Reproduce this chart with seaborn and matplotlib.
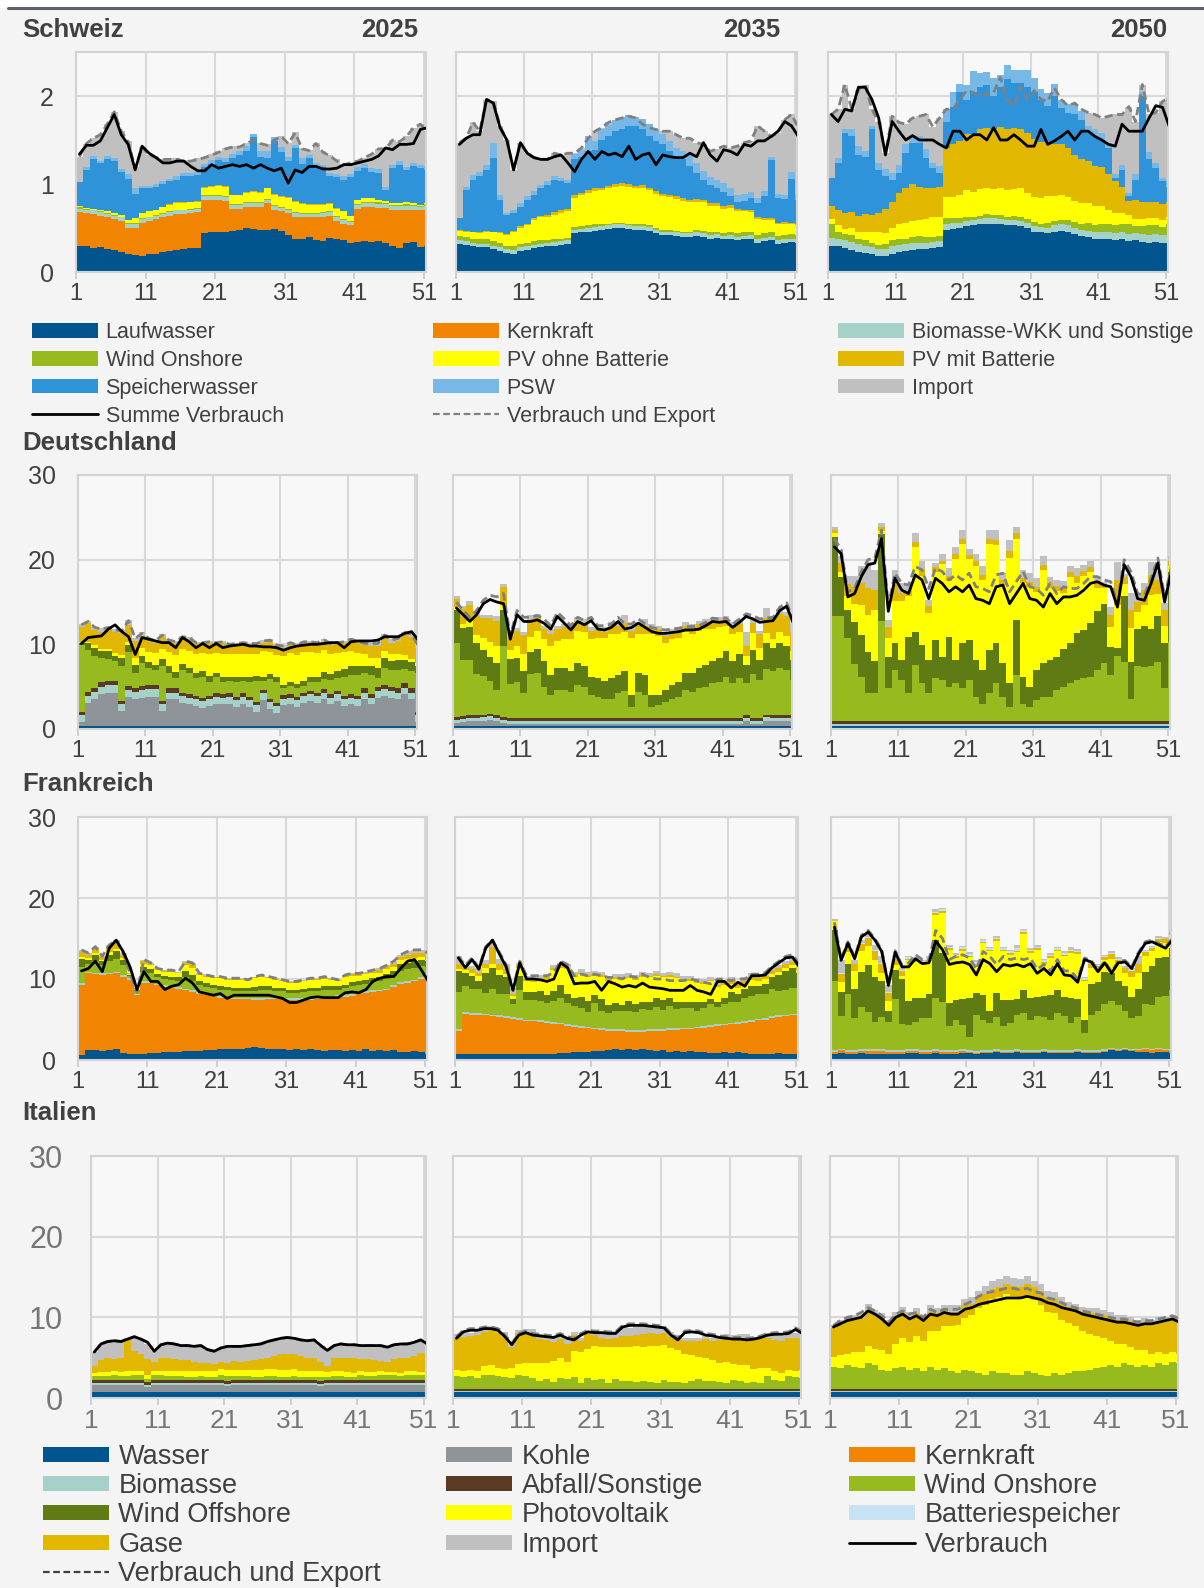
import numpy as np
import matplotlib.pyplot as plt
import seaborn as sns
from matplotlib.patches import Patch, Rectangle
from matplotlib.lines import Line2D
from matplotlib.font_manager import FontProperties

sns.set_theme(style="white")
plt.rcParams['font.family'] = ['Liberation Sans', 'DejaVu Sans']

W, H = 1204, 1588
weeks = np.arange(1, 53)

# Schweiz, Werte in 0.01 GW
ch25_lauf = [30,29,27,28,26,25,23,21,19,18, 20,21,23,24,25,26,27,27,44,45, 46,46,47,48,50,49,48,48,49,47, 42,38,38,40,36,35,39,38,36,33, 34,35,34,35,33,29,27,33,34,28, 30,31]
ch25_kern = [38,38,39,36,36,35,35,29,31,38, 38,39,39,40,41,40,40,41,38,37, 36,35,25,24,24,25,26,30,22,22, 25,25,24,22,26,28,25,20,18,20, 38,39,40,38,40,42,44,38,37,42, 41,40]
ch25_bio = [4,4,4,4,4,4,4,5,5,4, 4,4,4,4,4,4,4,4,4,4, 4,4,4,4,4,4,4,4,4,4, 4,4,4,4,4,4,4,5,5,4, 4,4,4,4,4,4,4,4,4,4, 4,4]
ch25_wind = [2,1,1,1,1,1,1,1,1,1, 1,1,1,1,1,1,1,1,1,1, 1,1,1,1,1,1,1,1,1,1, 1,1,1,1,1,1,1,1,1,1, 1,1,1,2,1,1,1,2,1,1, 2,2]
ch25_pvo = [1,1,1,1,2,2,2,3,5,6, 6,6,7,7,7,7,7,7,9,10, 11,11,10,10,11,12,11,12,12,11, 12,12,10,9,9,8,8,8,9,6, 5,5,5,3,3,2,2,2,2,1, 1,1]
ch25_pvm = [0,0,0,0,0,0,0,0,0,0, 0,0,0,1,1,1,1,1,1,1, 1,1,1,1,1,1,1,1,1,1, 1,1,1,1,1,1,1,1,0,0, 0,0,0,0,0,0,0,0,0,0, 0,0]
ch25_speicher = [27,43,56,54,59,59,49,47,28,28, 26,26,26,26,26,30,29,29,22,25, 28,27,41,45,46,61,40,33,60,50, 41,60,45,52,42,42,31,35,36,44, 33,34,30,30,12,40,44,37,42,42, 38,14]
ch25_psw = [0,3,4,2,4,4,3,5,6,3, 3,3,3,3,4,3,3,4,4,4, 4,5,5,4,6,4,6,8,4,6, 5,3,6,4,5,3,4,3,4,3, 4,5,4,5,4,4,4,3,4,4, 4,3]
ch25_import = [29,27,20,30,36,52,43,38,24,44, 35,30,25,23,20,15,15,15,8,7, 6,11,9,6,4,0,10,8,0,13, 16,15,12,6,23,15,20,17,14,13, 7,7,16,23,43,28,22,35,40,46, 40,31]
ch25_verbrauch = [134,144,144,149,164,179,156,145,116,143, 135,130,124,124,126,126,120,115,115,122, 118,120,122,120,122,118,122,118,115,118, 101,116,113,120,120,117,117,118,122,122, 124,126,128,132,141,139,145,145,146,162, 164,118]
ch25_export = [131,146,152,156,168,182,160,148,118,142, 133,130,128,128,128,126,126,128,130,133, 136,140,142,142,146,150,146,144,150,154, 146,158,140,138,146,136,132,126,122,124, 126,130,134,140,140,150,148,154,164,168, 160,126]

ch35_lauf = [32,31,29,28,28,26,24,22,21,24, 25,27,28,29,30,31,32,44,45,46, 47,48,49,50,50,49,48,48,47,44, 42,42,41,40,40,41,40,38,39,37, 38,36,37,38,33,35,36,32,33,34, 33,33]
ch35_bio = [4,4,4,4,4,4,4,4,4,4, 4,4,4,4,4,4,4,4,4,4, 4,4,4,4,4,4,4,4,4,4, 4,4,4,4,4,4,4,4,4,4, 4,4,4,4,4,4,4,4,4,4, 4,4]
ch35_wind = [5,5,5,5,5,5,5,4,4,4, 4,4,4,3,3,3,3,3,3,3, 3,2,2,2,2,2,2,2,2,2, 2,2,2,2,2,3,3,3,3,3, 4,4,4,4,5,5,5,5,5,5, 5,5]
ch35_pvo = [6,6,7,7,9,10,11,12,16,18, 20,24,26,27,28,29,30,33,35,37, 38,39,40,41,42,42,41,42,40,39, 38,37,36,35,33,32,32,30,29,28, 27,25,24,22,18,15,14,13,13,12, 11,10]
ch35_pvm = [1,1,1,1,1,1,1,1,2,2, 2,2,2,2,3,3,3,3,3,3, 3,3,3,3,3,3,3,3,3,3, 3,3,3,3,3,3,3,3,3,3, 3,3,2,2,2,2,2,2,2,1, 1,1]
ch35_speicher = [13,46,59,64,69,84,37,22,20,22, 27,27,31,34,37,33,29,41,41,44, 44,54,56,60,61,66,68,63,58,57, 56,49,45,44,38,29,23,21,17,16, 10,8,10,14,16,25,66,28,26,50, 28,10]
ch35_psw = [0,4,5,5,6,17,5,2,3,4, 4,4,4,4,4,4,4,6,8,18, 10,12,13,13,14,12,10,12,14,13, 12,12,10,10,14,12,10,9,9,10, 10,8,8,7,6,6,4,5,4,8, 5,3]
ch35_import = [86,55,60,46,74,47,79,83,46,69, 49,38,29,25,26,26,30,1,2,0, 11,2,3,0,0,0,0,0,0,0, 3,11,15,14,18,23,30,29,36,42, 45,55,58,58,82,68,23,69,86,65, 77,62]
ch35_verbrauch = [145,152,156,156,196,192,164,150,116,147, 135,130,128,128,131,133,124,114,128,137, 128,137,133,135,131,143,128,133,135,122, 133,131,130,130,135,131,147,133,126,139, 137,133,145,143,149,149,154,160,171,166, 154,126]
ch35_export = [147,152,170,160,196,194,166,150,116,147, 135,130,128,128,135,133,135,135,141,152, 160,164,170,173,175,177,175,168,164,162, 160,160,156,152,152,147,145,137,140,143, 141,143,147,149,166,160,154,158,173,179, 164,128]

ch50_lauf = [30,29,27,25,23,22,20,18,18,21, 23,24,25,26,26,27,28,48,49,50, 52,53,54,55,55,54,53,53,52,50, 46,45,44,46,47,46,43,41,40,38, 38,37,36,38,35,36,34,33,34,33, 33,32]
ch50_bio = [9,9,9,9,9,8,8,8,8,8, 8,8,8,7,7,7,7,7,7,6, 6,6,6,6,6,6,6,6,6,6, 6,6,6,7,7,7,7,7,7,7, 8,8,8,8,8,8,9,9,9,9, 9,9]
ch50_wind = [15,8,7,8,6,6,5,5,6,7, 7,6,7,8,7,6,6,6,5,5, 5,4,4,5,4,5,4,5,5,4, 5,4,6,5,5,6,7,6,9,8, 9,10,9,9,12,8,9,11,10,9, 12,14]
ch50_pvo = [6,7,6,8,8,10,12,14,12,14, 16,18,18,18,20,22,22,24,24,26, 30,28,30,30,29,30,30,30,32,30, 28,29,30,28,28,26,24,24,22,22, 20,16,14,12,10,8,8,8,8,8, 8,6]
ch50_pvm = [15,17,18,18,18,20,20,22,28,30, 36,40,42,38,36,34,34,56,60,62, 64,66,68,68,68,70,70,70,68,68, 66,64,62,60,58,56,52,50,48,46, 44,40,36,30,16,22,20,18,18,18, 17,16]
ch50_speicher = [32,54,91,86,69,65,97,49,37,25, 22,39,47,50,34,22,15,30,42,55, 39,47,48,49,38,45,56,51,52,52, 53,48,41,54,41,40,46,45,32,33, 31,30,4,19,5,23,120,49,39,26, 18,13]
ch50_psw = [0,6,4,8,10,6,4,8,8,8, 10,10,8,8,10,6,8,14,18,10, 16,24,16,14,20,14,16,14,14,20, 16,12,14,14,10,10,12,10,8,8, 8,6,4,6,4,6,4,8,6,4, 6,3]
ch50_import = [72,55,51,23,64,76,19,46,18,64, 48,23,20,22,39,41,55,0,0,0, 0,0,0,0,0,0,0,0,0,0, 0,0,0,0,0,0,0,0,15,17, 17,30,68,57,98,60,9,43,57,87, 95,54]
ch50_verbrauch = [179,171,185,183,210,210,196,175,133,171, 160,150,155,150,150,150,145,141,160,160, 150,156,156,150,164,150,150,156,150,143, 143,162,145,149,154,160,150,160,160,154, 150,145,143,168,160,160,160,175,189,187, 165,147]
ch50_export = [179,185,213,185,207,213,185,170,135,177, 170,168,175,177,179,165,175,185,185,196, 206,204,200,202,204,221,196,189,211,196, 206,196,194,209,196,189,192,185,181,179, 175,177,179,179,188,171,213,179,181,194, 198,147]

# Deutschland, Werte in 0.1 GW
de25_wasser = [3,3,3,3,3,3,3,3,3,3, 3,3,3,3,3,3,3,3,3,3, 4,4,4,4,4,4,4,4,4,4, 4,4,4,3,3,3,3,3,3,3, 3,3,3,3,3,3,3,3,3,3, 3,3]
de25_kohle = [5,28,33,38,40,40,18,35,33,34, 35,35,18,32,32,28,26,24,22,24, 26,25,26,22,26,22,16,30,20,15, 24,25,22,28,30,28,32,26,30,24, 26,24,32,26,34,36,34,32,38,32, 5,5]
de25_bio = [8,8,8,9,9,9,8,8,8,9, 9,9,8,8,8,8,8,8,8,8, 8,8,8,8,8,8,8,8,8,8, 8,8,8,8,8,8,8,8,8,8, 8,8,8,8,8,8,8,8,8,8, 8,8]
de25_abfall = [4,5,5,5,5,5,4,5,5,5, 5,5,4,5,5,4,4,4,4,4, 4,4,4,4,4,4,4,4,4,4, 4,4,4,4,4,4,4,4,4,4, 4,4,5,4,5,5,5,5,5,5, 4,4]
de25_won = [79,49,37,29,26,23,41,40,17,27, 20,18,42,18,12,27,25,21,25,17, 19,14,15,17,15,18,25,11,23,25, 8,10,10,8,10,12,12,17,15,23, 23,25,18,23,10,20,20,22,17,21, 46,50]
de25_woff = [2,8,10,8,9,6,10,8,10,8, 7,6,8,9,7,7,6,6,6,7, 5,6,5,6,5,5,6,5,6,5, 4,5,5,6,6,7,8,7,8,9, 10,10,9,10,12,12,10,12,11,10, 9,12]
de25_pv = [2,2,3,3,3,4,3,4,8,10, 12,14,12,16,20,18,20,22,22,26, 24,28,26,28,26,28,26,30,26,26, 34,34,34,34,30,28,26,24,22,20, 18,16,14,10,12,8,8,6,5,4, 3,2]
de25_gase = [18,22,18,20,22,24,26,20,20,14, 14,12,14,12,14,12,14,12,10,12, 10,12,10,10,12,10,10,10,12,10, 10,10,10,10,10,10,10,10,10,10, 12,12,10,14,14,16,14,16,24,26, 18,14]
de25_import = [3,3,4,4,4,4,4,6,4,4, 3,3,3,3,3,3,3,3,3,3, 3,3,3,3,3,3,3,3,3,3, 3,3,3,3,3,3,3,3,3,3, 3,3,3,4,4,4,4,4,4,4, 3,3]
de25_verbrauch = [101,108,109,110,118,123,115,109,88,108, 106,104,102,102,96,108,103,96,101,96, 101,96,98,99,100,98,98,97,97,96, 93,96,98,99,100,100,101,102,102,96, 103,104,104,104,105,109,109,109,113,115, 105,80]
de25_export = [123,127,120,118,120,117,116,128,107,113, 107,104,111,105,103,109,108,102,102,103, 102,103,100,101,102,101,101,104,105,99, 98,102,99,103,103,102,105,101,102,103, 106,104,101,101,101,111,105,107,114,112, 98,100]

de35_wasser = [3,3,3,3,3,3,3,3,3,3, 3,3,3,3,3,3,3,3,3,3, 3,3,3,3,3,3,3,3,3,3, 3,3,3,3,3,3,3,3,3,3, 3,3,3,3,3,3,3,3,3,3, 3,3]
de35_kohle = [4,5,6,6,7,8,6,4,3,3, 3,3,3,3,3,3,3,3,3,3, 3,3,3,3,3,3,3,3,3,3, 3,3,3,3,3,3,3,3,3,3, 3,3,3,6,3,3,7,6,6,6, 6,5]
de35_bio = [4,4,4,4,4,4,4,4,4,4, 4,4,4,4,4,4,4,4,4,4, 4,4,4,4,4,4,4,4,4,4, 4,4,4,4,4,4,4,4,4,4, 4,4,4,4,4,4,4,4,4,4, 4,4]
de35_abfall = [3,3,3,3,3,3,3,3,3,3, 3,3,3,3,3,3,3,3,3,3, 3,3,3,3,3,3,3,3,3,3, 3,3,3,3,3,3,3,3,3,3, 3,3,3,3,3,3,3,3,3,3, 3,3]
de35_won = [88,66,65,49,46,39,30,84,40,43, 30,52,53,37,27,33,33,31,39,37, 27,25,22,23,29,32,13,31,27,13, 15,19,23,25,33,31,35,37,41,43, 49,41,47,38,52,45,54,52,56,54, 42,67]
de35_woff = [38,38,40,36,30,28,32,42,30,28, 26,26,28,30,24,26,26,24,26,24, 22,22,22,24,22,24,14,22,24,14, 12,14,16,18,20,22,24,26,26,28, 30,26,28,22,28,24,30,28,30,28, 24,40]
de35_pv = [4,5,6,10,14,18,20,6,10,14, 20,18,22,26,34,32,34,38,38,40, 44,48,50,52,48,46,68,46,48,72, 70,56,54,52,48,46,44,42,38,36, 30,32,26,10,20,14,12,10,12,12, 10,4]
de35_gase = [10,18,20,22,24,28,30,22,16,18, 22,20,16,12,14,14,14,12,12,10, 10,10,8,10,10,10,8,10,10,8, 8,8,8,8,8,8,8,8,8,8, 8,10,10,12,12,16,18,22,22,24, 22,6]
de35_import = [3,3,4,6,4,4,6,3,5,3, 4,6,4,4,6,4,4,6,4,6, 4,4,6,4,4,10,4,4,8,4, 4,4,4,4,4,4,4,4,4,4, 4,4,4,16,4,4,12,6,6,4, 10,4]
de35_verbrauch = [143,135,127,135,148,153,150,148,106,135, 127,127,129,125,118,133,125,117,127,123, 128,118,117,120,127,118,120,125,120,115, 113,113,114,115,117,117,118,122,127,126, 127,120,126,133,130,126,127,128,140,145, 125,117]
de35_export = [150,140,132,140,152,158,156,160,110,140, 132,132,134,130,122,138,130,122,132,128, 132,122,122,124,132,124,124,130,124,120, 118,117,118,119,121,121,122,126,131,130, 131,124,130,136,134,130,131,132,144,149, 130,122]

de50_wasser = [3,3,3,3,3,3,3,3,3,3, 3,3,3,3,3,3,3,3,3,3, 3,3,3,3,3,3,3,3,3,3, 3,3,3,3,3,3,3,3,3,3, 3,3,3,3,3,3,3,3,3,3, 3,3]
de50_kohle = [1,1,1,1,1,1,1,1,1,1, 1,1,1,1,1,1,1,1,1,1, 1,1,1,1,1,1,1,1,1,1, 1,1,1,1,1,1,1,1,1,1, 1,1,1,1,1,1,1,1,1,1, 1,1]
de50_bio = [2,2,2,2,2,2,2,2,2,2, 2,2,2,2,2,2,2,2,2,2, 2,2,2,2,2,2,2,2,2,2, 2,2,2,2,2,2,2,2,2,2, 2,2,2,2,2,2,2,2,2,2, 2,2]
de50_abfall = [3,3,4,4,4,4,3,3,3,3, 3,3,3,3,3,3,3,3,3,3, 3,3,3,3,3,3,3,3,3,3, 3,3,3,3,3,3,3,3,3,3, 3,3,4,4,4,4,4,4,4,4, 3,3]
de50_won = [124,124,98,67,51,33,33,118,39,61, 49,33,67,45,33,51,49,41,45,39, 49,29,21,33,45,29,17,55,21,17, 25,29,29,37,41,45,49,51,53,61, 69,55,76,69,25,65,63,65,69,39, 94,94]
de50_woff = [94,47,33,49,50,48,38,103,37,31, 23,67,39,45,39,45,27,59,27,53, 47,43,40,51,47,40,28,65,32,24, 36,40,43,39,45,47,55,57,63,69, 70,33,10,78,44,43,49,43,55,53, 83,83]
de50_pv = [4,6,16,22,36,44,60,4,22,50, 70,48,100,82,56,80,110,66,120,118, 96,112,106,126,116,92,148,96,110,118, 92,110,86,78,66,78,60,64,60,28, 18,24,50,14,40,20,24,40,26,20, 6,6]
de50_gase = [4,10,14,20,26,32,24,4,14,20, 10,6,6,8,8,6,4,6,6,6, 4,6,6,6,6,6,8,6,6,6, 6,6,6,6,6,6,8,6,6,6, 4,14,30,8,22,12,18,24,16,18, 6,6]
de50_import = [4,8,10,13,20,30,24,5,8,17, 11,7,10,9,7,5,8,9,8,10, 8,8,10,10,12,8,13,8,10,10, 10,10,7,7,8,7,9,7,7,5, 4,9,21,4,20,9,9,15,11,9, 6,6]
de50_verbrauch = [215,207,156,160,180,194,196,225,139,178, 164,160,182,176,154,178,172,162,168,162, 170,154,152,148,168,170,148,160,172,154, 152,144,160,148,156,156,158,164,172,174, 170,168,144,194,180,154,152,172,196,150, 186,186]
de50_export = [225,212,162,166,186,200,202,235,145,184, 172,170,192,188,166,190,186,176,182,176, 184,168,166,162,182,184,162,174,186,168, 166,158,172,160,168,166,166,172,180,180, 176,174,150,200,186,160,158,178,202,156, 192,192]

# Frankreich, Werte in 0.1 GW
fr25_wasser = [6,12,12,11,12,13,9,8,8,8, 9,9,10,10,10,11,11,11,12,12, 13,13,14,14,15,16,15,14,13,13, 12,14,12,13,12,11,12,12,11,12, 11,13,11,12,11,12,10,10,11,10, 8,7]
fr25_kern = [87,95,94,94,94,94,94,91,72,87, 86,83,80,79,78,75,73,71,68,67, 64,63,61,61,60,58,59,61,62,62, 62,60,62,61,63,65,65,66,67,67, 70,70,73,73,75,78,84,85,86,90, 93,71]
fr25_bio = [2,2,2,2,2,2,2,2,2,2, 2,2,2,2,2,2,2,2,2,2, 2,2,2,2,2,2,2,2,2,2, 2,2,2,2,2,2,2,2,2,2, 2,2,2,2,2,2,2,2,2,2, 2,2]
fr25_won = [20,10,14,10,14,16,12,3,3,12, 10,8,8,8,8,14,12,8,8,8, 8,8,8,8,8,9,10,9,8,8, 7,7,8,9,8,9,8,7,9,10, 9,9,10,10,12,12,14,15,15,14, 12,18]
fr25_woff = [10,5,8,5,8,9,7,1,1,6, 5,4,4,4,4,8,7,5,5,4, 4,4,4,4,4,5,5,5,4,4, 4,4,4,4,4,4,4,4,4,5, 5,5,5,5,6,6,8,8,8,8, 7,10]
fr25_pv = [2,2,2,2,3,3,2,1,0,4, 5,5,5,6,5,7,9,8,8,8, 10,9,10,10,8,11,12,10,10,8, 8,8,9,10,10,9,8,6,9,8, 7,7,6,6,6,5,5,5,4,3, 2,2]
fr25_gase = [6,4,5,3,6,8,4,1,0,3, 2,1,1,1,1,3,4,1,1,1, 1,1,1,1,1,1,1,1,1,1, 1,1,1,1,1,1,1,1,2,2, 2,2,2,3,3,4,4,5,6,5, 5,6]
fr25_import = [3,2,3,1,3,3,2,0,0,2, 1,1,1,1,1,2,2,1,2,1, 1,1,1,1,1,1,1,1,1,1, 1,1,1,1,1,2,1,1,1,1, 1,1,2,2,2,3,3,4,4,4, 3,4]
fr25_verbrauch = [110,113,122,109,138,148,134,115,87,109, 97,97,87,91,93,101,95,84,82,80, 82,76,80,80,80,80,80,80,78,76, 71,71,74,77,78,77,77,77,83,84, 83,87,97,101,103,103,113,122,124,111, 97,97]
fr25_export = [136,132,140,128,142,148,132,107,84,124, 120,113,111,111,109,122,120,107,105,103, 103,101,101,101,99,103,105,103,101,99, 97,97,99,101,101,103,101,99,105,107, 107,109,111,113,117,122,130,134,136,136, 132,120]

fr35_wasser = [7,8,8,8,7,8,8,8,7,7, 8,8,8,8,8,9,9,10,10,10, 11,11,12,13,12,13,12,13,12,11, 12,10,11,10,11,10,10,9,9,10, 9,10,9,8,8,8,8,9,8,8, 7,6]
fr35_kern = [29,49,48,48,48,46,45,44,44,43, 40,40,39,38,37,35,33,31,30,29, 27,26,24,23,24,22,23,22,24,25, 24,27,26,28,27,29,30,32,33,33, 35,35,37,39,41,42,44,44,46,47, 48,18]
fr35_bio = [2,2,2,2,2,2,2,2,2,2, 2,2,2,2,2,2,2,2,2,2, 2,2,2,2,2,2,2,2,2,2, 2,2,2,2,2,2,2,2,2,2, 2,2,2,2,2,2,2,2,2,2, 2,2]
fr35_won = [46,32,30,30,26,32,26,28,16,34, 24,24,24,22,26,30,26,24,22,18, 30,22,20,22,22,24,22,26,24,28, 24,28,24,24,24,20,22,26,22,24, 26,24,28,30,30,30,34,30,30,32, 32,40]
fr35_woff = [26,16,16,10,24,26,24,20,6,18, 10,10,12,10,12,16,12,10,14,14, 10,14,10,10,8,12,10,8,10,10, 12,10,8,8,8,10,8,6,6,8, 12,10,12,12,10,12,14,20,24,24, 18,30]
fr35_pv = [2,4,4,6,6,5,6,4,4,10, 14,12,14,20,26,22,30,26,28,30, 24,28,30,30,32,28,30,32,30,28, 28,26,30,26,26,24,22,22,18,16, 10,8,6,8,6,6,4,4,4,4, 4,4]
fr35_gase = [6,2,4,4,6,20,8,6,2,2, 2,2,2,2,2,2,2,2,2,2, 2,2,2,2,2,2,2,2,2,2, 2,2,2,2,2,2,2,2,2,2, 4,4,4,4,4,4,4,4,4,4, 4,2]
fr35_import = [10,4,4,6,4,6,6,6,8,4, 4,4,4,4,4,4,4,4,4,4, 4,4,4,4,4,4,4,4,4,4, 4,4,4,4,4,4,4,4,4,4, 4,4,4,4,4,4,4,4,4,4, 4,6]
fr35_verbrauch = [126,114,124,112,138,148,131,115,86,120, 100,100,99,97,100,120,114,94,95,95, 97,86,97,94,90,92,90,95,90,89, 88,86,86,86,92,86,84,81,97,97, 89,96,91,104,104,105,114,120,126,127, 115,114]
fr35_export = [128,117,126,114,140,148,133,118,88,122, 104,104,104,104,108,122,118,104,106,104, 106,104,102,102,100,104,102,106,102,100, 100,98,98,98,100,98,96,94,100,100, 98,100,100,106,106,108,116,122,128,130, 118,114]

fr50_wasser = [8,9,8,8,9,8,8,8,7,8, 8,9,9,8,8,9,8,8,8,9, 9,8,9,9,10,9,9,10,9,9, 9,10,9,9,9,9,10,9,9,9, 10,12,11,12,11,10,10,9,10,10, 9,9]
fr50_kern = [2,3,2,2,2,3,3,3,3,2, 2,2,2,2,2,2,2,2,2,2, 1,1,1,1,1,1,1,1,1,1, 1,1,1,1,1,1,1,1,1,1, 1,1,1,1,1,2,3,3,3,2, 2,2]
fr50_bio = [2,2,2,2,2,2,2,2,2,2, 2,2,2,2,2,2,2,2,2,2, 2,2,2,2,2,2,2,2,2,2, 2,2,2,2,2,2,2,2,2,2, 2,2,2,2,2,2,2,2,2,2, 2,2]
fr50_won = [85,40,69,40,52,46,34,40,35,63, 32,30,34,40,40,63,60,30,38,30, 17,44,38,34,40,30,34,42,46,38, 42,40,38,46,42,34,40,21,44,48, 56,58,54,46,38,40,54,54,63,65, 73,85]
fr50_woff = [64,30,38,36,44,58,56,44,14,36, 56,30,30,24,30,72,60,28,24,32, 48,28,30,14,30,32,28,20,28,26, 24,26,30,28,24,30,22,16,38,36, 40,34,30,30,26,34,40,48,48,48, 52,64]
fr50_pv = [10,12,14,22,26,24,20,10,12,6, 4,50,44,42,40,31,50,66,52,60, 50,34,64,74,64,60,56,58,70,56, 58,40,46,48,50,56,56,48,20,16, 14,18,20,16,24,20,20,18,20,18, 16,12]
fr50_gase = [0,10,6,8,8,10,12,12,10,8, 6,2,2,2,2,2,2,2,2,2, 2,2,2,2,2,2,2,2,2,2, 2,2,2,2,2,2,2,2,4,4, 4,6,6,6,8,10,4,4,4,4, 4,0]
fr50_batt = [1,1,1,1,1,1,1,1,1,1, 1,2,2,2,2,2,2,2,2,2, 2,2,2,2,2,2,2,3,2,2, 2,2,2,2,2,2,2,2,1,1, 1,1,1,1,1,1,1,1,1,1, 1,1]
fr50_import = [2,16,4,4,4,4,6,8,8,4, 2,2,2,2,2,4,2,2,2,2, 2,2,2,2,2,2,2,4,2,2, 2,2,2,2,2,4,2,2,2,2, 2,2,2,2,2,10,2,2,2,2, 2,2]
fr50_verbrauch = [164,123,144,125,152,158,148,134,92,133, 115,115,125,119,120,147,136,118,120,121, 118,105,124,119,109,118,116,118,115,119, 107,113,105,119,105,104,96,124,121,109, 120,107,120,121,113,131,144,146,142,138, 148,148]
fr50_export = [170,125,146,127,154,160,150,136,94,135, 117,120,130,124,124,160,150,124,128,130, 126,112,134,128,118,128,124,126,124,126, 112,118,110,124,110,110,100,126,123,111, 122,109,122,123,115,133,146,148,144,140, 150,150]

# Italien, Werte in 0.1 GW
it25_wasser = [8,8,8,8,8,8,8,8,8,8, 8,8,8,8,8,8,8,8,8,8, 8,8,8,8,8,8,8,8,8,8, 8,8,8,8,8,8,8,8,8,8, 8,8,8,8,8,8,8,8,8,8, 8,8]
it25_kohle = [8,8,8,8,8,8,8,8,6,8, 8,8,8,8,8,8,8,8,8,8, 7,8,8,8,8,8,8,8,8,8, 8,8,8,8,7,8,8,8,8,8, 8,8,8,8,8,8,8,8,8,8, 8,8]
it25_bio = [2,2,2,2,2,2,2,2,2,2, 2,2,2,2,2,2,2,2,2,2, 2,2,2,2,2,2,2,2,2,2, 2,2,2,2,2,2,2,2,2,2, 2,2,2,2,2,2,2,2,2,2, 2,2]
it25_abfall = [4,4,4,4,4,4,4,4,4,4, 4,4,4,4,4,4,4,4,4,4, 4,4,4,4,4,4,4,4,4,4, 4,4,4,4,4,4,4,4,4,4, 4,4,4,4,4,4,4,4,4,4, 4,4]
it25_won = [5,5,5,6,5,5,6,6,4,6, 6,5,5,5,4,4,5,4,4,6, 6,5,5,5,4,4,5,5,4,4, 5,4,4,4,5,4,5,5,4,4, 6,5,5,6,6,6,5,7,7,6, 6,5]
it25_pv = [4,5,5,5,5,6,6,6,5,5, 5,6,6,7,7,7,7,8,8,8, 8,8,8,8,9,9,9,9,9,9, 9,8,8,8,7,6,6,6,6,5, 5,5,5,5,4,4,4,4,4,4, 4,4]
it25_gase = [9,15,18,15,18,39,24,21,19,12, 17,17,15,13,14,12,9,10,8,9, 9,11,10,11,12,13,14,16,19,20, 19,18,16,16,12,8,17,17,18,19, 15,16,15,13,13,16,19,17,19,24, 23,9]
it25_import = [17,20,20,23,20,3,18,18,19,13, 16,18,19,18,18,19,22,16,16,17, 19,18,19,19,19,19,20,20,20,20, 19,20,21,22,19,19,15,17,16,16, 17,17,18,19,18,18,17,17,17,16, 12,15]
it25_verbrauch = [57,67,70,71,70,73,76,73,69,58, 66,68,67,65,65,64,65,60,58,62, 64,64,64,65,66,67,70,72,74,75, 74,72,71,72,65,59,65,67,66,66, 65,65,65,65,63,66,67,67,69,72, 67,55]
it25_export = [57,67,70,71,70,73,76,73,69,58, 66,68,67,65,65,64,65,60,58,62, 64,64,64,65,66,67,70,72,74,75, 74,72,71,72,65,59,65,67,66,66, 65,65,65,65,63,66,67,67,69,72, 67,55]

it35_wasser = [8,8,8,8,8,8,8,8,8,8, 8,8,8,8,8,8,8,8,8,8, 8,8,8,8,8,8,8,8,8,8, 8,8,8,8,8,8,8,8,8,8, 8,8,8,8,8,8,8,8,8,8, 8,8]
it35_bio = [1,1,1,1,1,1,1,1,1,1, 1,1,1,1,1,1,1,1,1,1, 1,1,1,1,1,1,1,1,1,1, 1,1,1,1,1,1,1,1,1,1, 1,1,1,1,1,1,1,1,1,1, 1,1]
it35_abfall = [2,2,2,2,2,2,2,2,2,2, 2,2,2,2,2,2,2,2,2,2, 2,2,2,2,2,2,2,2,2,2, 2,2,2,2,2,2,2,2,2,2, 2,2,2,2,2,2,2,2,2,2, 2,2]
it35_won = [16,15,16,14,17,18,16,15,14,17, 16,14,10,13,9,14,12,15,8,14, 11,12,8,12,10,10,9,10,9,8, 11,9,9,8,10,12,10,10,9,8, 11,10,8,9,8,16,11,10,16,15, 14,14]
it35_pv = [8,8,8,9,12,12,10,10,12,14, 16,18,22,20,26,24,22,32,38,36, 42,40,44,40,42,42,44,42,44,46, 44,42,40,36,32,28,28,26,24,26, 20,20,22,16,18,10,12,10,8,8, 10,8]
it35_gase = [40,42,42,44,42,44,44,40,26,38, 38,36,30,28,24,24,22,20,14,18, 14,12,10,12,14,14,14,16,16,14, 14,14,14,16,18,20,24,24,28,30, 32,34,34,36,36,38,38,40,40,40, 38,34]
it35_import = [4,4,4,6,6,4,6,6,4,4, 4,6,6,4,4,6,8,4,4,4, 4,4,6,8,10,10,10,10,10,8, 8,6,4,4,4,4,4,4,4,4, 4,4,4,4,4,6,6,6,6,6, 6,6]
it35_verbrauch = [74,82,84,84,86,86,84,76,66,78, 81,78,77,76,75,78,74,72,78,82, 81,81,80,80,88,90,90,90,89,88, 87,78,72,81,82,81,78,77,75,74, 73,73,72,73,75,78,79,79,80,85, 80,66]
it35_export = [76,84,86,86,88,88,86,78,68,80, 83,80,79,78,77,80,76,74,80,84, 83,83,82,82,90,92,92,92,91,90, 89,80,74,83,84,83,80,79,77,76, 75,75,74,75,77,80,81,81,82,87, 82,68]

it50_wasser = [8,8,8,8,8,8,8,8,8,8, 8,8,8,8,8,8,8,8,8,8, 8,8,8,8,8,8,8,8,8,8, 8,8,8,8,8,8,8,8,8,8, 8,8,8,8,8,8,8,8,8,8, 8,8]
it50_bio = [1,1,1,1,1,1,1,1,1,1, 1,1,1,1,1,1,1,1,1,1, 1,1,1,1,1,1,1,1,1,1, 1,1,1,1,1,1,1,1,1,1, 1,1,1,1,1,1,1,1,1,1, 1,1]
it50_abfall = [2,2,2,2,2,2,2,2,2,2, 2,2,2,2,2,2,2,2,2,2, 2,2,2,2,2,2,2,2,2,2, 2,2,2,2,2,2,2,2,2,2, 2,2,2,2,2,2,2,2,2,2, 2,2]
it50_won = [28,26,30,28,26,32,30,24,22,26, 28,24,26,22,28,24,26,22,20,24, 22,20,18,22,20,20,18,18,22,20, 18,16,20,18,20,22,22,24,26,28, 30,28,32,30,28,30,28,32,30,34, 32,30]
it50_pv = [12,16,14,18,20,22,20,24,22,30, 36,34,40,38,44,48,52,56,60,64, 70,80,86,90,94,98,98,96,94,90, 86,80,74,68,62,56,50,44,40,36, 30,28,24,22,20,18,16,14,14,12, 12,10]
it50_gase = [36,38,40,40,42,44,42,40,36,34, 32,30,28,26,24,22,20,18,16,16, 14,14,14,12,12,12,12,12,14,16, 18,18,18,20,20,22,24,26,28,28, 30,30,30,32,32,34,36,38,40,40, 38,26]
it50_import = [4,6,6,6,8,8,6,6,6,6, 6,8,6,6,8,6,6,8,8,8, 8,8,10,10,10,10,10,10,10,8, 8,8,8,8,6,6,6,6,6,6, 6,6,6,6,6,6,6,6,6,6, 6,4]
it50_verbrauch = [88,92,96,98,100,108,104,98,90,100, 104,98,102,96,104,102,106,104,104,110, 112,116,118,120,122,124,124,124,126,124, 122,118,116,112,110,108,104,102,100,98, 96,94,94,92,90,92,92,94,96,98, 94,78]
it50_export = [90,96,100,102,106,112,108,102,94,104, 108,104,106,100,110,106,110,110,110,116, 120,126,130,132,134,136,136,134,136,132, 130,124,122,118,114,112,108,106,104,102, 100,98,98,96,94,96,96,98,100,102, 98,80]

COL = {
    'Laufwasser': '#00558f', 'Kernkraft': '#f18400', 'Biomasse-WKK und Sonstige': '#a6d1c9',
    'Wind Onshore': '#97ba1e', 'PV ohne Batterie': '#ffff00', 'PV mit Batterie': '#e2b700',
    'Speicherwasser': '#2f93d9', 'PSW': '#78b8e6', 'Import': '#c0c0c0',
    'Wasser': '#00558f', 'Kohle': '#8f9499', 'Biomasse': '#a6d1c9', 'Abfall/Sonstige': '#5a3a22',
    'Wind Offshore': '#5f7b14', 'Photovoltaik': '#ffff00', 'Batteriespeicher': '#c6e2f3', 'Gase': '#e2b700',
}

ch_names = ['Laufwasser', 'Kernkraft', 'Biomasse-WKK und Sonstige', 'Wind Onshore',
            'PV ohne Batterie', 'PV mit Batterie', 'Speicherwasser', 'PSW', 'Import']
zero = [0] * 52
panels = {
    ('Schweiz', 2025): (list(zip(ch_names, [ch25_lauf, ch25_kern, ch25_bio, ch25_wind, ch25_pvo, ch25_pvm, ch25_speicher, ch25_psw, ch25_import])), ch25_verbrauch, ch25_export),
    ('Schweiz', 2035): (list(zip(ch_names, [ch35_lauf, zero, ch35_bio, ch35_wind, ch35_pvo, ch35_pvm, ch35_speicher, ch35_psw, ch35_import])), ch35_verbrauch, ch35_export),
    ('Schweiz', 2050): (list(zip(ch_names, [ch50_lauf, zero, ch50_bio, ch50_wind, ch50_pvo, ch50_pvm, ch50_speicher, ch50_psw, ch50_import])), ch50_verbrauch, ch50_export),
    ('Deutschland', 2025): ([('Wasser', de25_wasser), ('Kohle', de25_kohle), ('Biomasse', de25_bio), ('Abfall/Sonstige', de25_abfall), ('Wind Onshore', de25_won), ('Wind Offshore', de25_woff), ('Photovoltaik', de25_pv), ('Gase', de25_gase), ('Import', de25_import)], de25_verbrauch, de25_export),
    ('Deutschland', 2035): ([('Wasser', de35_wasser), ('Kohle', de35_kohle), ('Biomasse', de35_bio), ('Abfall/Sonstige', de35_abfall), ('Wind Onshore', de35_won), ('Wind Offshore', de35_woff), ('Photovoltaik', de35_pv), ('Gase', de35_gase), ('Import', de35_import)], de35_verbrauch, de35_export),
    ('Deutschland', 2050): ([('Wasser', de50_wasser), ('Kohle', de50_kohle), ('Biomasse', de50_bio), ('Abfall/Sonstige', de50_abfall), ('Wind Onshore', de50_won), ('Wind Offshore', de50_woff), ('Photovoltaik', de50_pv), ('Gase', de50_gase), ('Import', de50_import)], de50_verbrauch, de50_export),
    ('Frankreich', 2025): ([('Wasser', fr25_wasser), ('Kernkraft', fr25_kern), ('Biomasse', fr25_bio), ('Wind Onshore', fr25_won), ('Wind Offshore', fr25_woff), ('Photovoltaik', fr25_pv), ('Gase', fr25_gase), ('Import', fr25_import)], fr25_verbrauch, fr25_export),
    ('Frankreich', 2035): ([('Wasser', fr35_wasser), ('Kernkraft', fr35_kern), ('Biomasse', fr35_bio), ('Wind Onshore', fr35_won), ('Wind Offshore', fr35_woff), ('Photovoltaik', fr35_pv), ('Gase', fr35_gase), ('Import', fr35_import)], fr35_verbrauch, fr35_export),
    ('Frankreich', 2050): ([('Wasser', fr50_wasser), ('Kernkraft', fr50_kern), ('Biomasse', fr50_bio), ('Wind Onshore', fr50_won), ('Wind Offshore', fr50_woff), ('Photovoltaik', fr50_pv), ('Gase', fr50_gase), ('Batteriespeicher', fr50_batt), ('Import', fr50_import)], fr50_verbrauch, fr50_export),
    ('Italien', 2025): ([('Wasser', it25_wasser), ('Kohle', it25_kohle), ('Biomasse', it25_bio), ('Abfall/Sonstige', it25_abfall), ('Wind Onshore', it25_won), ('Photovoltaik', it25_pv), ('Gase', it25_gase), ('Import', it25_import)], it25_verbrauch, it25_export),
    ('Italien', 2035): ([('Wasser', it35_wasser), ('Biomasse', it35_bio), ('Abfall/Sonstige', it35_abfall), ('Wind Onshore', it35_won), ('Photovoltaik', it35_pv), ('Gase', it35_gase), ('Import', it35_import)], it35_verbrauch, it35_export),
    ('Italien', 2050): ([('Wasser', it50_wasser), ('Biomasse', it50_bio), ('Abfall/Sonstige', it50_abfall), ('Wind Onshore', it50_won), ('Photovoltaik', it50_pv), ('Gase', it50_gase), ('Import', it50_import)], it50_verbrauch, it50_export),
}

# layout in pixels: name, top, bottom, (left, right) per year, scale, ymax, yticks
rows = [
    ('Schweiz', 52, 272, [(76, 426), (456, 797), (828, 1168)], 0.01, 2.5, [0, 1, 2]),
    ('Deutschland', 475, 729, [(78, 417), (453, 792), (831, 1170)], 0.1, 30, [0, 10, 20, 30]),
    ('Frankreich', 817, 1060, [(78, 427), (455, 798), (831, 1171)], 0.1, 30, [0, 10, 20, 30]),
    ('Italien', 1156, 1398, [(91, 426), (453, 801), (830, 1178)], 0.1, 30, [0, 10, 20, 30]),
]
years = [2025, 2035, 2050]
year_right = [418, 780, 1167]
title_y = {'Schweiz': 30, 'Deutschland': 443, 'Frankreich': 784, 'Italien': 1113}

fig = plt.figure(figsize=(W / 100, H / 100), dpi=100, facecolor='#f4f4f4')
fig.add_artist(Rectangle((0, 1 - 7 / H), 1, 7 / H, transform=fig.transFigure, color='white', zorder=0))
fig.add_artist(Line2D([8 / W, 1], [1 - 8 / H] * 2, color='#5b6168', lw=2.2))

grey_txt = '#404040'
for country, top, bot, cols, scale, ymax, yt in rows:
    italy = country == 'Italien'
    for j, (l, r) in enumerate(cols):
        ax = fig.add_axes([l / W, 1 - bot / H, (r - l) / W, (bot - top) / H])
        ax.set_facecolor('#f8f8f8')
        layers, verb, expo = panels[(country, years[j])]
        bottom = np.zeros(52)
        for name, vals in layers:
            h = np.asarray(vals, float) * scale
            assert len(h) == 52, (country, years[j], name, len(h))
            ax.bar(weeks, h, bottom=bottom, width=1.0, align='edge', color=COL[name],
                   linewidth=0, antialiased=False, zorder=2)
            bottom += h
        sns.lineplot(x=weeks + 0.5, y=np.asarray(expo, float) * scale, ax=ax, color='#808080',
                     linewidth=2, linestyle=(0, (3, 1.6)), zorder=4)
        sns.lineplot(x=weeks + 0.5, y=np.asarray(verb, float) * scale, ax=ax, color='black',
                     linewidth=2, zorder=5)
        ax.set_xlim(1, 51.3)
        ax.set_ylim(0, ymax)
        ax.set_xticks([1, 11, 21, 31, 41, 51])
        ax.set_yticks(yt)
        ax.set_xlabel('')
        ax.set_ylabel('')
        ax.grid(True, color='#d9d9d9', lw=1.5)
        ax.set_axisbelow(True)
        for s in ax.spines.values():
            s.set_color('#d3d3d3')
            s.set_linewidth(1.5)
        tc = '#767676' if italy else grey_txt
        ax.tick_params(axis='x', length=5, width=1.2, color='#c8c8c8', pad=3,
                       labelsize=19 if italy else 17, labelcolor=tc, bottom=True)
        ax.tick_params(axis='y', length=0, pad=20 if italy else 16,
                       labelsize=22 if italy else 18, labelcolor=tc)
        if j > 0:
            ax.set_yticklabels([])
        if country == 'Schweiz':
            fig.text(year_right[j] / W, 1 - title_y[country] / H, str(years[j]), ha='right',
                     va='center', fontsize=18.5, fontweight='bold', color=grey_txt)
    fig.text(22 / W, 1 - title_y[country] / H, country, ha='left', va='center',
             fontsize=18.5, fontweight='bold', color=grey_txt)


def col_legend(items, x, y, size, swatch_h, spacing, dash_col):
    handles = []
    for lab in items:
        if lab in ('Summe Verbrauch', 'Verbrauch'):
            handles.append(Line2D([], [], color='black', lw=2, label=lab))
        elif lab == 'Verbrauch und Export':
            handles.append(Line2D([], [], color=dash_col, lw=1.6, linestyle=(0, (3, 1.6)), label=lab))
        else:
            handles.append(Patch(facecolor=COL[lab], edgecolor='none', label=lab))
    hl = 66 / (size * 100 / 72)
    fig.legend(handles=handles, loc='upper left', bbox_to_anchor=(x / W, 1 - y / H),
               bbox_transform=fig.transFigure, frameon=False,
               prop=FontProperties(family=['Liberation Sans', 'DejaVu Sans'], size=size),
               ncol=1, borderpad=0, borderaxespad=0, handlelength=hl, handleheight=swatch_h,
               handletextpad=0.35, labelspacing=spacing, labelcolor=grey_txt)


col_legend(['Laufwasser', 'Wind Onshore', 'Speicherwasser', 'Summe Verbrauch'], 32, 322, 15.5, 0.66, 0.32, '#808080')
col_legend(['Kernkraft', 'PV ohne Batterie', 'PSW', 'Verbrauch und Export'], 433, 322, 15.5, 0.66, 0.32, '#808080')
col_legend(['Biomasse-WKK und Sonstige', 'PV mit Batterie', 'Import'], 838, 322, 15.5, 0.66, 0.32, '#808080')

col_legend(['Wasser', 'Biomasse', 'Wind Offshore', 'Gase', 'Verbrauch und Export'], 43, 1444, 19.5, 0.48, 0.12, '#404040')
col_legend(['Kohle', 'Abfall/Sonstige', 'Photovoltaik', 'Import'], 446, 1444, 19.5, 0.48, 0.12, '#404040')
col_legend(['Kernkraft', 'Wind Onshore', 'Batteriespeicher', 'Verbrauch'], 849, 1444, 19.5, 0.48, 0.12, '#404040')

fig.savefig('out.png', dpi=100, facecolor=fig.get_facecolor())
